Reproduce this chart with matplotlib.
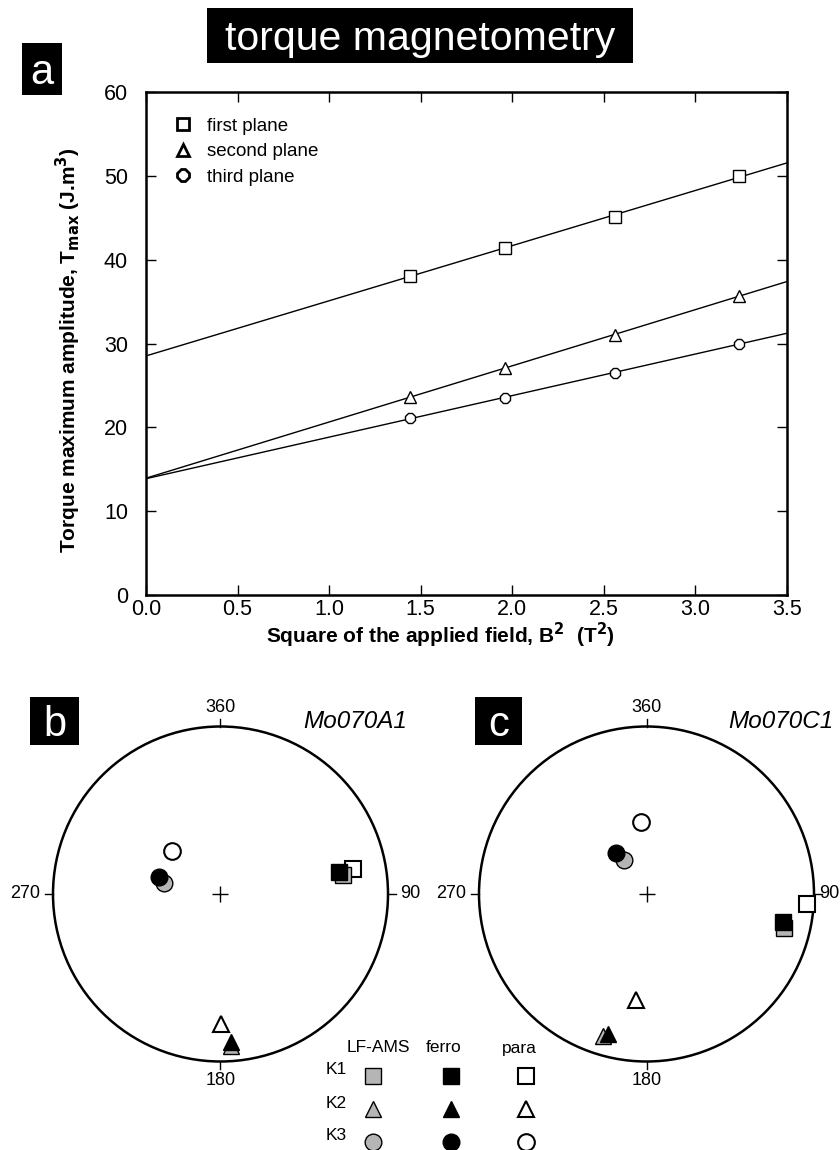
import numpy as np
import matplotlib.pyplot as plt
from matplotlib.patches import Circle, Rectangle

plt.rcParams['font.family'] = ['Liberation Sans', 'DejaVu Sans']

# panel a: torque maximum amplitude vs B^2
b_squared = [1.44, 1.96, 2.56, 3.24]
first_plane = [38.1, 41.4, 45.1, 50.0]
second_plane = [23.6, 27.1, 31.0, 35.7]
third_plane = [21.1, 23.5, 26.5, 30.0]
x_ticks = [0.0, 0.5, 1.0, 1.5, 2.0, 2.5, 3.0, 3.5]
y_ticks = [0, 10, 20, 30, 40, 50, 60]

# panels b, c: principal axes (K1, K2, K3) as declination / inclination
axes_names = ['K1', 'K2', 'K3']
a1_lfams_dec = [81.1, 176.0, 280.8]
a1_lfams_inc = [27.1, 9.7, 61.9]
a1_ferro_dec = [79.5, 175.9, 285.8]
a1_ferro_inc = [28.6, 12.4, 58.7]
a1_para_dec = [79.4, 180.0, 311.4]
a1_para_inc = [20.8, 23.6, 58.1]

c1_lfams_dec = [104.0, 197.1, 325.9]
c1_lfams_inc = [16.5, 12.5, 70.2]
c1_ferro_dec = [101.4, 195.3, 322.9]
c1_ferro_inc = [18.0, 14.4, 65.1]
c1_para_dec = [93.7, 185.8, 355.4]
c1_para_inc = [4.3, 36.5, 54.3]

W, H = 840, 1150
fig = plt.figure(figsize=(8.4, 11.5), dpi=100)


def black_box(x0, y0, x1, y1, s, size):
    # box given in pixels from the top-left corner
    fig.patches.append(Rectangle((x0 / W, 1 - y1 / H), (x1 - x0) / W, (y1 - y0) / H,
                                 transform=fig.transFigure, facecolor='black',
                                 edgecolor='none'))
    fig.text((x0 + x1) / 2 / W, 1 - (y0 + y1) / 2 / H, s, color='white',
             fontsize=size, ha='center', va='center_baseline')


# title
black_box(207, 8, 633, 63, 'torque magnetometry', 29.5)

# ---- panel a ----
ax = fig.add_axes([146 / W, 1 - 595 / H, (787 - 146) / W, (595 - 92) / H])
sym = [('s', first_plane, 'first plane'),
       ('^', second_plane, 'second plane'),
       ('8', third_plane, 'third plane')]
xx = np.array([0, 3.5])
for m, vals, lab in sym:
    k, c = np.polyfit(b_squared, vals, 1)
    ax.plot(xx, k * xx + c, color='black', lw=1)
    ax.plot(b_squared, vals, m, mfc='white', mec='black', ms=8, mew=1, ls='none')
    ax.plot([], [], m, mfc='white', mec='black', ms=9, mew=2, ls='none', label=lab)

ax.set_xlim(0, 3.5)
ax.set_ylim(0, 60)
ax.set_xticks(x_ticks)
ax.set_xticklabels(['%.1f' % t for t in x_ticks])
ax.set_yticks(y_ticks)
ax.tick_params(direction='in', top=True, right=True, length=7, width=1,
               labelsize=15.5)
ax.tick_params(axis='x', pad=3)
ax.tick_params(axis='y', pad=13)
for s in ax.spines.values():
    s.set_linewidth(1.8)
ax.set_xlabel('Square of the applied field, B$^\\mathbf{2}$  (T$^\\mathbf{2}$)',
              fontsize=15, fontweight='bold')
ax.xaxis.set_label_coords(0.459, -0.052)
ax.set_ylabel('Torque maximum amplitude, T$_\\mathbf{max}$ (J.m$^\\mathbf{3}$)',
              fontsize=15, fontweight='bold')
ax.yaxis.set_label_coords(-0.098, 0.487)
ax.legend(loc='upper left', bbox_to_anchor=(0.025, 0.975), frameon=False,
          fontsize=13.5, handlelength=0.8, handletextpad=0.9, labelspacing=0.45,
          borderaxespad=0.3)
black_box(22, 43, 62, 95, 'a', 30)


# ---- stereonets ----
def proj(dec, inc):
    dec = np.radians(np.asarray(dec))
    r = np.sqrt(2) * np.sin(np.radians(90 - np.asarray(inc)) / 2)
    return r * np.sin(dec), r * np.cos(dec)


R = 167.5
gray = '#b5b5b5'
markers = ['s', '^', 'o']


def stereonet(cx, cy, name, sets, east_x=1.075):
    half = 200
    a = fig.add_axes([(cx - half) / W, 1 - (cy + half) / H, 2 * half / W, 2 * half / H])
    lim = half / R
    a.set_xlim(-lim, lim)
    a.set_ylim(-lim, lim)
    a.set_aspect('equal')
    a.axis('off')
    a.add_patch(Circle((0, 0), 1, fill=False, lw=1.8, color='black'))
    t = 0.045
    a.plot([0, 0], [1, 1 + t], color='black', lw=1)
    a.plot([0, 0], [-1, -1 - t], color='black', lw=1)
    a.plot([1, 1 + t], [0, 0], color='black', lw=1)
    a.plot([-1, -1 - t], [0, 0], color='black', lw=1)
    a.text(0, 1.065, '360', ha='center', va='bottom', fontsize=13)
    a.text(0, -1.065, '180', ha='center', va='top', fontsize=13)
    a.text(-1.075, 0, '270', ha='right', va='center', fontsize=13)
    a.text(east_x, 0, '90', ha='left', va='center', fontsize=13)
    a.plot(0, 0, '+', color='black', ms=12, mew=1)
    a.text(1.115, 1.03, name, ha='right', va='center', fontsize=17.5, style='italic')
    for dec, inc, face, ew in sets:
        x, y = proj(dec, inc)
        for i in range(3):
            a.plot(x[i], y[i], markers[i], mfc=face, mec='black', mew=ew,
                   ms=12, ls='none', clip_on=False)
    return a


stereonet(220.5, 894, 'Mo070A1', [
    (a1_para_dec, a1_para_inc, 'white', 1.5),
    (a1_lfams_dec, a1_lfams_inc, gray, 1.0),
    (a1_ferro_dec, a1_ferro_inc, 'black', 1.0),
])
black_box(30, 697, 79, 745, 'b', 30)

stereonet(646.5, 894, 'Mo070C1', [
    (c1_para_dec, c1_para_inc, 'white', 1.5),
    (c1_lfams_dec, c1_lfams_inc, gray, 1.0),
    (c1_ferro_dec, c1_ferro_inc, 'black', 1.0),
], east_x=1.03)
black_box(475, 697, 522, 745, 'c', 30)

# ---- symbol key ----
key = fig.add_axes([0, 0, 1, 1])
key.set_xlim(0, W)
key.set_ylim(H, 0)
key.axis('off')
col_x = [373, 451, 526]
col_face = [gray, 'black', 'white']
col_ew = [1.0, 1.0, 1.5]
row_y = [1076, 1109, 1142]
for j, meth in enumerate(['LF-AMS', 'ferro', 'para']):
    key.text(col_x[j] + (5 if j == 0 else -7), 1048, meth, ha='center', va='center',
             fontsize=12.5)
    for i in range(3):
        key.plot(col_x[j], row_y[i], markers[i], mfc=col_face[j], mec='black',
                 mew=col_ew[j], ms=12, ls='none')
for i, nm in enumerate(axes_names):
    key.text(336, row_y[i] - 6, nm, ha='center', va='center', fontsize=12.5)

fig.savefig('out.png', dpi=100)
